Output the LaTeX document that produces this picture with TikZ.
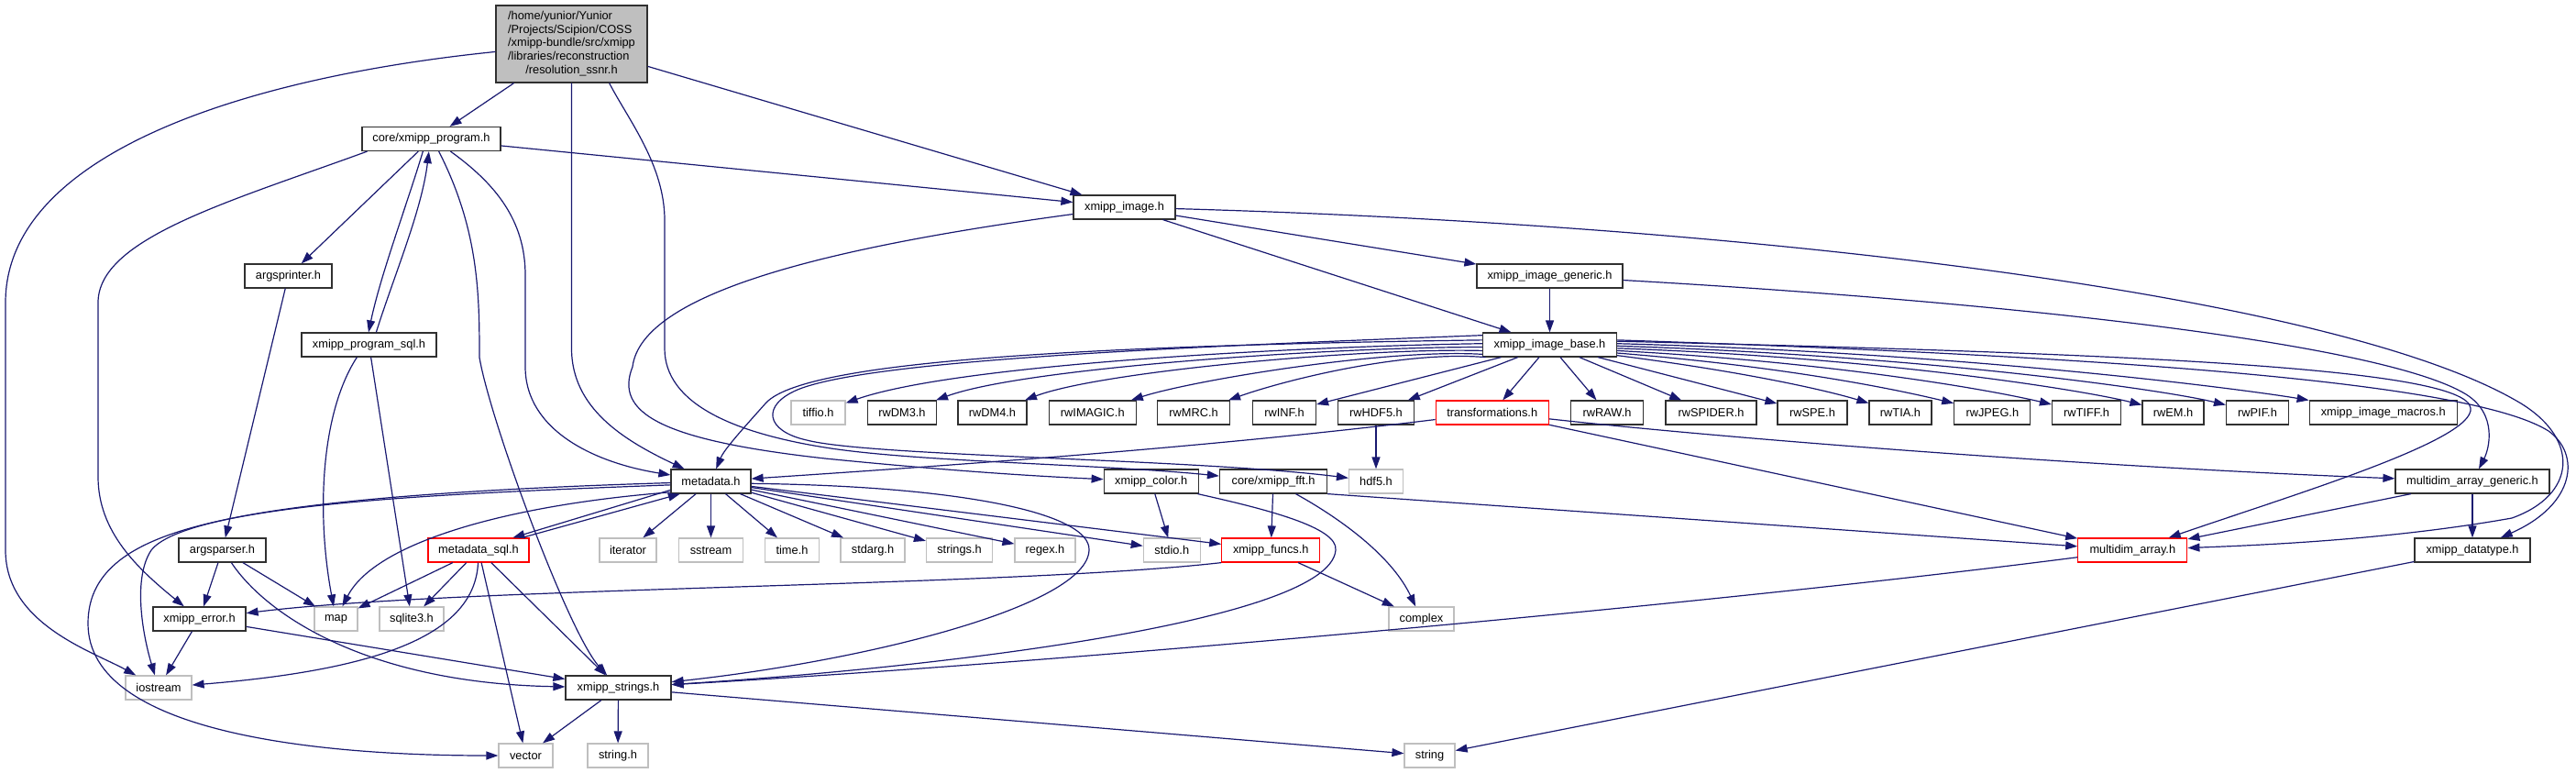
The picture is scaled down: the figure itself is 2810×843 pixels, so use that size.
\documentclass[tikz,border=0pt]{standalone}
\usepackage{fontspec}
\setmainfont{Liberation Sans}
\usetikzlibrary{arrows.meta}
\definecolor{edgec}{HTML}{191970}
\definecolor{grayb}{HTML}{BFBFBF}
\definecolor{nodeb}{HTML}{303030}
\begin{document}
\begin{tikzpicture}[x=1pt,y=-1pt,
  every node/.style={font=\fontsize{12.8pt}{14.7pt}\selectfont, inner sep=0pt, minimum height=26pt, line width=1.2pt, fill=white, text=black},
  hdr/.style={draw=nodeb},
  sys/.style={draw=grayb},
  redbox/.style={draw=red},
  rootbox/.style={draw=nodeb, fill=grayb, minimum width=165pt, minimum height=84pt},
  dep/.style={draw=edgec, line width=1.2pt, -{Triangle[length=13pt,width=9pt]}}]
\useasboundingbox (0,0) rectangle (2810,843);

% nodes
\node[rootbox] (root) at (623.5,48) {\begin{tabular}{@{}l@{}}/home/yunior/Yunior\\/Projects/Scipion/COSS\\/xmipp-bundle/src/xmipp\\/libraries/reconstruction\\\multicolumn{1}{@{}c@{}}{/resolution\_ssnr.h}\end{tabular}};
\node[hdr, minimum width=151pt] (prog) at (470.5,151.5) {core/xmipp\_program.h};
\node[hdr, minimum width=111pt] (img) at (1226.5,226) {xmipp\_image.h};
\node[hdr, minimum width=95pt] (argsprinter) at (314.5,301) {argsprinter.h};
\node[hdr, minimum width=159pt] (imggen) at (1690.5,301) {xmipp\_image\_generic.h};
\node[hdr, minimum width=147pt] (progsql) at (402.5,376) {xmipp\_program\_sql.h};
\node[hdr, minimum width=146pt] (imgbase) at (1690.5,376) {xmipp\_image\_base.h};

\node[sys, minimum width=59pt] (tiffio) at (892.5,450) {tiffio.h};
\node[hdr, minimum width=75pt] (rwDM3) at (984,450) {rwDM3.h};
\node[hdr, minimum width=75pt] (rwDM4) at (1082.5,450) {rwDM4.h};
\node[hdr, minimum width=95pt] (rwIMAGIC) at (1191.8,450) {rwIMAGIC.h};
\node[hdr, minimum width=79pt] (rwMRC) at (1302,450) {rwMRC.h};
\node[hdr, minimum width=69pt] (rwINF) at (1401,450) {rwINF.h};
\node[hdr, minimum width=83pt] (rwHDF5) at (1501,450) {rwHDF5.h};
\node[redbox, minimum width=123pt] (transf) at (1627.7,450) {transformations.h};
\node[hdr, minimum width=79pt] (rwRAW) at (1753,450) {rwRAW.h};
\node[hdr, minimum width=99pt] (rwSPIDER) at (1866.5,450) {rwSPIDER.h};
\node[hdr, minimum width=76pt] (rwSPE) at (1977,450) {rwSPE.h};
\node[hdr, minimum width=68pt] (rwTIA) at (2073,450) {rwTIA.h};
\node[hdr, minimum width=83pt] (rwJPEG) at (2173.3,450) {rwJPEG.h};
\node[hdr, minimum width=75pt] (rwTIFF) at (2276,450) {rwTIFF.h};
\node[hdr, minimum width=67pt] (rwEM) at (2370.5,450) {rwEM.h};
\node[hdr, minimum width=68pt] (rwPIF) at (2462.5,450) {rwPIF.h};
\node[hdr, minimum width=161pt] (macros) at (2599.7,450) {xmipp\_image\_macros.h};

\node[hdr, minimum width=87pt] (metadata) at (775.5,525) {metadata.h};
\node[hdr, minimum width=103pt] (color) at (1255.7,525) {xmipp\_color.h};
\node[hdr, minimum width=117pt] (fft) at (1389,525) {core/xmipp\_fft.h};
\node[sys, minimum width=59pt] (hdf5) at (1501,525) {hdf5.h};
\node[hdr, minimum width=168pt] (mag) at (2697,525) {multidim\_array\_generic.h};

\node[hdr, minimum width=95pt] (argsparser) at (242.5,600) {argsparser.h};
\node[redbox, minimum width=110pt] (mdsql) at (522,600) {metadata\_sql.h};
\node[sys, minimum width=62pt] (iterator) at (685,600) {iterator};
\node[sys, minimum width=70pt] (sstream) at (775.5,600) {sstream};
\node[sys, minimum width=59pt] (timeh) at (864,600) {time.h};
\node[sys, minimum width=70pt] (stdarg) at (952,600) {stdarg.h};
\node[sys, minimum width=72pt] (stringsh) at (1046.5,600) {strings.h};
\node[sys, minimum width=66pt] (regex) at (1140,600) {regex.h};
\node[sys, minimum width=62pt] (stdio) at (1278.3,600) {stdio.h};
\node[redbox, minimum width=107pt] (funcs) at (1386.3,600) {xmipp\_funcs.h};
\node[redbox, minimum width=119pt] (mda) at (2326.3,600) {multidim\_array.h};
\node[hdr, minimum width=126pt] (datatype) at (2697,600) {xmipp\_datatype.h};

\node[hdr, minimum width=101pt] (error) at (217.5,675) {xmipp\_error.h};
\node[sys, minimum width=47pt] (map) at (366.5,675) {map};
\node[sys, minimum width=70pt] (sqlite) at (449,675) {sqlite3.h};
\node[sys, minimum width=71pt] (complex) at (1550.5,675) {complex};

\node[sys, minimum width=72pt] (iostream) at (173,750) {iostream};
\node[hdr, minimum width=115pt] (xstrings) at (674.5,750) {xmipp\_strings.h};

\node[sys, minimum width=59pt] (vector) at (573.5,824) {vector};
\node[sys, minimum width=66pt] (stringh) at (674,824) {string.h};
\node[sys, minimum width=55pt] (string) at (1559.5,824) {string};

% edges from root
\draw[dep] (root) .. controls (260,85) and (6,170) .. (6,330) -- (6,600) .. controls (6,680) and (100,710) .. (iostream);
\draw[dep] (root) -- (prog);
\draw[dep] (root.south) -- (623.5,380) .. controls (623.5,445) and (680,480) .. (metadata);
\draw[dep] (root.-46) .. controls (685,130) and (725,180) .. (725,240) -- (725,380) .. controls (725,440) and (800,472) .. (900,488) .. controls (1000,504) and (1200,506) .. (fft);
\draw[dep] (root) -- (img);

% core/xmipp_program.h
\draw[dep] (prog) -- (img);
\draw[dep] (prog) -- (argsprinter);
\draw[dep] (prog.-124) .. controls (445,220) and (415,300) .. (progsql.92);
\draw[dep] (progsql.60) .. controls (430,300) and (460,230) .. (prog.-101);
\draw[dep] (prog.191) .. controls (250,220) and (107,260) .. (107,330) -- (107,520) .. controls (107,580) and (150,620) .. (error);
\draw[dep] (prog.-59) .. controls (522,250) and (523,320) .. (523,390) .. controls (535,460) and (620,690) .. (xstrings);
\draw[dep] (prog.-33) .. controls (540,200) and (573,240) .. (573,300) -- (573,400) .. controls (573,470) and (650,505) .. (metadata);

% xmipp_program_sql.h, argsprinter, argsparser, error
\draw[dep] (progsql.-134) .. controls (350,450) and (345,560) .. (map);
\draw[dep] (progsql) -- (sqlite);
\draw[dep] (argsprinter) -- (argsparser);
\draw[dep] (argsparser) -- (error);
\draw[dep] (argsparser) -- (map);
\draw[dep] (argsparser.-54) .. controls (290,670) and (400,745) .. (xstrings);
\draw[dep] (error) -- (iostream);
\draw[dep] (error) -- (xstrings);

% metadata_sql.h
\draw[dep] (mdsql.16) -- (metadata.-158);
\draw[dep] (metadata.192) -- (mdsql.20);
\draw[dep] (mdsql) -- (map);
\draw[dep] (mdsql) -- (sqlite);
\draw[dep] (mdsql.-92) .. controls (518,690) and (420,730) .. (iostream);
\draw[dep] (mdsql) -- (vector);
\draw[dep] (mdsql) -- (xstrings);

% metadata.h
\draw[dep] (metadata.182) .. controls (450,535) and (200,555) .. (165,600) .. controls (145,630) and (155,690) .. (iostream);
\draw[dep] (metadata.185) .. controls (300,545) and (96,560) .. (96,680) .. controls (96,800) and (350,824) .. (vector);
\draw[dep] (metadata.195) .. controls (560,550) and (410,590) .. (map);
\draw[dep] (metadata) -- (iterator);
\draw[dep] (metadata) -- (sstream);
\draw[dep] (metadata) -- (timeh);
\draw[dep] (metadata) -- (stdarg);
\draw[dep] (metadata) -- (stringsh);
\draw[dep] (metadata) -- (regex);
\draw[dep] (metadata) -- (stdio);
\draw[dep] (metadata) -- (funcs);
\draw[dep] (metadata.-3) .. controls (1050,530) and (1190,560) .. (1188,600) .. controls (1186,660) and (950,720) .. (xstrings);

% xmipp_image.h
\draw[dep] (img) -- (imggen);
\draw[dep] (img) -- (imgbase);
\draw[dep] (img) .. controls (900,270) and (700,320) .. (690,400) .. controls (670,450) and (720,480) .. (900,500) .. controls (1000,510) and (1100,518) .. (color);
\draw[dep] (img) .. controls (1900,245) and (2550,320) .. (2750,440) .. controls (2815,480) and (2810,540) .. (2740,565) .. controls (2600,590) and (2450,595) .. (mda);

% xmipp_image_generic.h
\draw[dep] (imggen) -- (imgbase);
\draw[dep] (imggen) .. controls (2200,330) and (2600,375) .. (2690,430) .. controls (2725,452) and (2715,490) .. (mag);

% xmipp_image_base.h
\draw[dep] (imgbase.172) .. controls (1300,378) and (950,392) .. (870,425) .. controls (830,442) and (835,470) .. (880,480) .. controls (950,498) and (1300,500) .. (hdf5);
\draw[dep] (imgbase.176) .. controls (1100,378) and (870,400) .. (835,440) .. controls (810,468) and (790,490) .. (metadata);
\draw[dep] (imgbase.179) .. controls (1450,377) and (1050,395) .. (tiffio);
\draw[dep] (imgbase.182) .. controls (1470,378) and (1120,400) .. (rwDM3);
\draw[dep] (imgbase.185) .. controls (1490,379) and (1200,405) .. (rwDM4);
\draw[dep] (imgbase.188) .. controls (1510,380) and (1300,415) .. (rwIMAGIC);
\draw[dep] (imgbase.191) .. controls (1530,382) and (1400,415) .. (rwMRC);
\draw[dep] (imgbase) -- (rwINF);
\draw[dep] (imgbase) -- (rwHDF5);
\draw[dep] (imgbase) -- (transf);
\draw[dep] (imgbase) -- (rwRAW);
\draw[dep] (imgbase) -- (rwSPIDER);
\draw[dep] (imgbase) -- (rwSPE);
\draw[dep] (imgbase.-9) .. controls (1900,405) and (1990,425) .. (rwTIA);
\draw[dep] (imgbase.-7) .. controls (1950,400) and (2070,425) .. (rwJPEG);
\draw[dep] (imgbase.-5) .. controls (2000,395) and (2170,425) .. (rwTIFF);
\draw[dep] (imgbase.-3) .. controls (2050,390) and (2270,425) .. (rwEM);
\draw[dep] (imgbase.-1) .. controls (2100,388) and (2360,425) .. (rwPIF);
\draw[dep] (imgbase.1) .. controls (2150,385) and (2450,425) .. (macros);
\draw[dep] (imgbase.3) .. controls (2300,385) and (2690,400) .. (2695,445) .. controls (2700,480) and (2500,540) .. (mda);
\draw[dep] (imgbase.4) .. controls (2350,390) and (2700,420) .. (2780,470) .. controls (2815,495) and (2810,550) .. (datatype);

% transformations.h, rwHDF5.h
\draw[dep] (transf) .. controls (1300,490) and (1000,510) .. (metadata);
\draw[dep] (transf) -- (mda);
\draw[dep] (transf) .. controls (1900,480) and (2300,510) .. (mag);
\draw[dep] (rwHDF5) -- (hdf5);

% xmipp_color.h, core/xmipp_fft.h, xmipp_funcs.h
\draw[dep] (color) -- (stdio);
\draw[dep] (color.-15) .. controls (1380,555) and (1460,575) .. (1457,600) .. controls (1450,680) and (1000,730) .. (xstrings);
\draw[dep] (fft) -- (funcs);
\draw[dep] (fft) .. controls (1470,570) and (1520,610) .. (complex);
\draw[dep] (fft.south east) -- (mda);
\draw[dep] (funcs) -- (complex);
\draw[dep] (funcs.south west) .. controls (1100,640) and (500,640) .. (error);

% multidim arrays, datatype, strings
\draw[dep] (mda) .. controls (1900,655) and (1200,720) .. (xstrings);
\draw[dep] (mag) -- (mda);
\draw[dep] (mag) -- (datatype);
\draw[dep] (datatype) -- (string);
\draw[dep] (xstrings) -- (string);
\draw[dep] (xstrings) -- (vector);
\draw[dep] (xstrings) -- (stringh);
\end{tikzpicture}
\end{document}
